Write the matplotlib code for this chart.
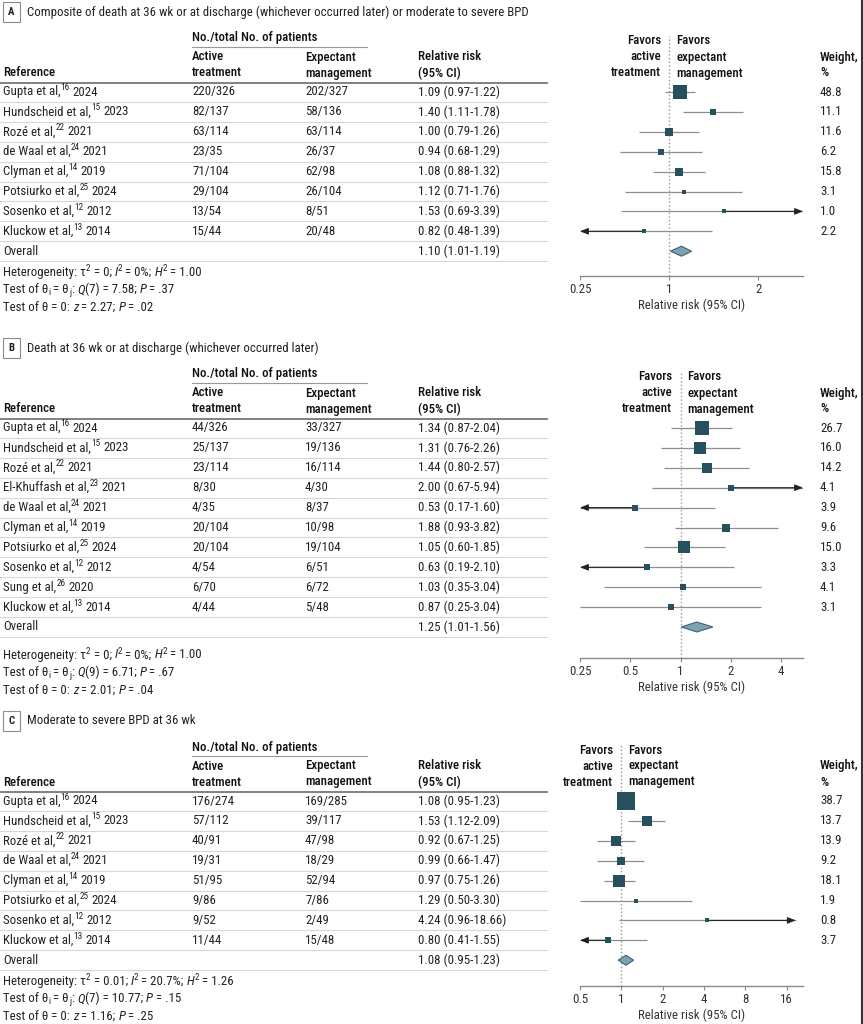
import numpy as np
import matplotlib.pyplot as plt
from matplotlib import font_manager
from matplotlib.ticker import NullLocator

# pick the narrowest sans family that is installed
names = {f.name for f in font_manager.fontManager.ttflist}
FONT = 'DejaVu Sans'
for cand in ['Liberation Sans Narrow', 'Roboto Condensed', 'Arial Narrow', 'Roboto', 'Liberation Sans']:
    if cand in names:
        FONT = cand
        break
plt.rcParams['font.family'] = [FONT, 'DejaVu Sans']

# ---- Panel A data ----
title_a = "Composite of death at 36 wk or at discharge (whichever occurred later) or moderate to severe BPD"
authors_a = ["Gupta et al,", "Hundscheid et al,", "Rozé et al,", "de Waal et al,", "Clyman et al,",
             "Potsiurko et al,", "Sosenko et al,", "Kluckow et al,"]
cites_a = ["16", "15", "22", "24", "14", "25", "12", "13"]
years_a = ["2024", "2023", "2021", "2021", "2019", "2024", "2012", "2014"]
active_a = ["220/326", "82/137", "63/114", "23/35", "71/104", "29/104", "13/54", "15/44"]
expect_a = ["202/327", "58/136", "63/114", "26/37", "62/98", "26/104", "8/51", "20/48"]
rr_a = [1.09, 1.40, 1.00, 0.94, 1.08, 1.12, 1.53, 0.82]
lo_a = [0.97, 1.11, 0.79, 0.68, 0.88, 0.71, 0.69, 0.48]
hi_a = [1.22, 1.78, 1.26, 1.29, 1.32, 1.76, 3.39, 1.39]
wt_a = [48.8, 11.1, 11.6, 6.2, 15.8, 3.1, 1.0, 2.2]
overall_a = [1.10, 1.01, 1.19]
# '|' splits segments: '^' superscript, '_' subscript, '*' italic
stats_a = ["Heterogeneity: τ|^2| = 0; |*I|^2| = 0%; |*H|^2| = 1.00",
           "Test of θ|_i| = θ|_j|: |*Q|(7) = 7.58; |*P| = .37",
           "Test of θ = 0: |*z| = 2.27; |*P| = .02"]
ticks_a = [0.5, 1, 2]
ticklabels_a = ["0.25", "1", "2"]

# ---- Panel B data ----
title_b = "Death at 36 wk or at discharge (whichever occurred later)"
authors_b = ["Gupta et al,", "Hundscheid et al,", "Rozé et al,", "El-Khuffash et al,", "de Waal et al,",
             "Clyman et al,", "Potsiurko et al,", "Sosenko et al,", "Sung et al,", "Kluckow et al,"]
cites_b = ["16", "15", "22", "23", "24", "14", "25", "12", "26", "13"]
years_b = ["2024", "2023", "2021", "2021", "2021", "2019", "2024", "2012", "2020", "2014"]
active_b = ["44/326", "25/137", "23/114", "8/30", "4/35", "20/104", "20/104", "4/54", "6/70", "4/44"]
expect_b = ["33/327", "19/136", "16/114", "4/30", "8/37", "10/98", "19/104", "6/51", "6/72", "5/48"]
rr_b = [1.34, 1.31, 1.44, 2.00, 0.53, 1.88, 1.05, 0.63, 1.03, 0.87]
lo_b = [0.87, 0.76, 0.80, 0.67, 0.17, 0.93, 0.60, 0.19, 0.35, 0.25]
hi_b = [2.04, 2.26, 2.57, 5.94, 1.60, 3.82, 1.85, 2.10, 3.04, 3.04]
wt_b = [26.7, 16.0, 14.2, 4.1, 3.9, 9.6, 15.0, 3.3, 4.1, 3.1]
overall_b = [1.25, 1.01, 1.56]
stats_b = ["Heterogeneity: τ|^2| = 0; |*I|^2| = 0%; |*H|^2| = 1.00",
           "Test of θ|_i| = θ|_j|: |*Q|(9) = 6.71; |*P| = .67",
           "Test of θ = 0: |*z| = 2.01; |*P| = .04"]
ticks_b = [0.25, 0.5, 1, 2, 4]
ticklabels_b = ["0.25", "0.5", "1", "2", "4"]

# ---- Panel C data ----
title_c = "Moderate to severe BPD at 36 wk"
authors_c = ["Gupta et al,", "Hundscheid et al,", "Rozé et al,", "de Waal et al,", "Clyman et al,",
             "Potsiurko et al,", "Sosenko et al,", "Kluckow et al,"]
cites_c = ["16", "15", "22", "24", "14", "25", "12", "13"]
years_c = ["2024", "2023", "2021", "2021", "2019", "2024", "2012", "2014"]
active_c = ["176/274", "57/112", "40/91", "19/31", "51/95", "9/86", "9/52", "11/44"]
expect_c = ["169/285", "39/117", "47/98", "18/29", "52/94", "7/86", "2/49", "15/48"]
rr_c = [1.08, 1.53, 0.92, 0.99, 0.97, 1.29, 4.24, 0.80]
lo_c = [0.95, 1.12, 0.67, 0.66, 0.75, 0.50, 0.96, 0.41]
hi_c = [1.23, 2.09, 1.25, 1.47, 1.26, 3.30, 18.66, 1.55]
wt_c = [38.7, 13.7, 13.9, 9.2, 18.1, 1.9, 0.8, 3.7]
overall_c = [1.08, 0.95, 1.23]
stats_c = ["Heterogeneity: τ|^2| = 0.01; |*I|^2| = 20.7%; |*H|^2| = 1.26",
           "Test of θ|_i| = θ|_j|: |*Q|(7) = 10.77; |*P| = .15",
           "Test of θ = 0: |*z| = 1.16; |*P| = .25"]
ticks_c = [0.5, 1, 2, 4, 8, 16]
ticklabels_c = ["0.5", "1", "2", "4", "8", "16"]

W, H = 863, 1024
TXT = '#222222'
HDR = '#111111'
SQ = '#27505f'
CI = '#8f8f8f'

fig = plt.figure(figsize=(W / 100, H / 100), dpi=100)
bg = fig.add_axes([0, 0, 1, 1])
bg.set_xlim(0, W)
bg.set_ylim(H, 0)
bg.axis('off')
R = fig.canvas.get_renderer()


def text_width(s, **kw):
    t = bg.text(0, 0, s, **kw)
    w = t.get_window_extent(renderer=R).width
    t.remove()
    return w


# size the font from the panel A title width in the reference (a bit over 478 px)
FS = min(10.5, 10 * 495 / text_width(title_a, fontsize=10))
SPACE = text_width("a a", fontsize=FS) - text_width("aa", fontsize=FS)


def rich(x, y, markup):
    # draw a line made of plain, italic, superscript and subscript pieces
    for seg in markup.split('|'):
        if not seg:
            continue
        kw = dict(fontsize=FS, color=TXT, va='center')
        dy = 0
        if seg[0] in '^_':
            kw['fontsize'] = FS * 0.72
            dy = -4 if seg[0] == '^' else 3
            seg = seg[1:]
        elif seg[0] == '*':
            kw['style'] = 'italic'
            seg = seg[1:]
        lead = len(seg) - len(seg.lstrip(' '))
        trail = len(seg) - len(seg.rstrip(' '))
        x += lead * SPACE
        core = seg.strip(' ')
        if core:
            t = bg.text(x, y + dy, core, **kw)
            x += t.get_window_extent(renderer=R).width
        x += trail * SPACE


def draw_panel(letter, title, y0, authors, cites, years, act, exp, rr, lo, hi, wt, overall, stats,
               xlim, ticks, ticklabels, stat_gap, axis_y, k, smin):
    n = len(authors)
    step = 19.9
    first = y0 + 80
    # panel label and title
    bg.text(11.5, y0, letter, ha='center', va='center', fontsize=FS - 1.5, fontweight='bold', color=TXT,
            bbox=dict(boxstyle='square,pad=0.5', fc='white', ec='#8c8c8c', lw=0.8))
    bg.text(27, y0, title, va='center', fontsize=FS, color=TXT)
    # headers
    bg.text(192, y0 + 26, "No./total No. of patients", va='center', fontsize=FS, color=HDR,
            fontweight='medium')
    bg.plot([192, 367], [y0 + 35, y0 + 35], color='#999999', lw=0.8)
    for x, t in [(192, "Active\ntreatment"), (305, "Expectant\nmanagement"), (418, "Relative risk\n(95% CI)")]:
        bg.text(x, y0 + 53, t, va='center', fontsize=FS, color=HDR, linespacing=1.3, fontweight='medium')
    bg.text(3, y0 + 61, "Reference", va='center', fontsize=FS, color=HDR, fontweight='medium')
    bg.text(820, y0 + 53, "Weight,\n%", va='center', fontsize=FS, color=HDR, linespacing=1.3,
            fontweight='medium')
    bg.plot([0, 547], [y0 + 71, y0 + 71], color='#777777', lw=1.3)
    # rows
    for i in range(n + 1):
        y = first + i * step
        if i < n:
            rich(3, y, f"{authors[i]}|^{cites[i]}| {years[i]}")
            bg.text(192, y, act[i], va='center', fontsize=FS, color=TXT)
            bg.text(305, y, exp[i], va='center', fontsize=FS, color=TXT)
            bg.text(418, y, f"{rr[i]:.2f} ({lo[i]:.2f}-{hi[i]:.2f})", va='center', fontsize=FS, color=TXT)
            bg.text(820, y, f"{wt[i]:.1f}", va='center', fontsize=FS, color=TXT)
        else:
            bg.text(3, y, "Overall", va='center', fontsize=FS, color=TXT)
            bg.text(418, y, f"{overall[0]:.2f} ({overall[1]:.2f}-{overall[2]:.2f})",
                    va='center', fontsize=FS, color=TXT)
        bg.plot([0, 547], [y + step / 2, y + step / 2], color='#d6d6d6', lw=0.8)
    ys = first + n * step + stat_gap
    for j, s in enumerate(stats):
        rich(3, ys + j * 17.5, s)

    # forest plot
    top = y0 + 24
    ax = fig.add_axes([580 / W, 1 - axis_y / H, (803 - 580) / W, (axis_y - top) / H])
    ax.set_xscale('log')
    ax.set_xlim(xlim)
    ax.set_ylim((axis_y - first) / step, (top - first) / step)
    ax.axvline(1, color='#9a9a9a', ls=':', lw=1.0, zorder=1)
    arrow = dict(arrowstyle='-|>,head_length=0.7,head_width=0.28', color='#222', lw=0.8,
                 shrinkA=0, shrinkB=0, mutation_scale=7)
    for i in range(n):
        a = max(lo[i], xlim[0])
        b = min(hi[i], xlim[1])
        ax.plot([a, b], [i, i], color=CI, lw=0.9, zorder=2, solid_capstyle='butt')
        if lo[i] < ticks[0]:
            ax.annotate('', xy=(a, i), xytext=(rr[i], i), arrowprops=arrow, annotation_clip=False, zorder=2)
        if hi[i] > ticks[-1]:
            ax.annotate('', xy=(b, i), xytext=(rr[i], i), arrowprops=arrow, annotation_clip=False, zorder=2)
        side = max(smin, k * np.sqrt(wt[i])) * 0.72
        ax.scatter([rr[i]], [i], marker='s', s=side ** 2, color=SQ, zorder=3, linewidths=0)
    est, dlo, dhi = overall
    h = 0.25
    ax.fill([dlo, est, dhi, est], [n, n - h, n, n + h], facecolor='#7da2b3', edgecolor='#3f6372',
            lw=0.8, zorder=3)
    yfav = (y0 + 45 - first) / step
    ax.annotate("Favors\nactive\ntreatment", xy=(1, yfav), xytext=(-6, 0),
                textcoords='offset points', ha='right', va='center', fontsize=FS, color=HDR,
                linespacing=1.3, annotation_clip=False, fontweight='medium')
    ax.annotate("Favors\nexpectant\nmanagement", xy=(1, yfav), xytext=(5, 0),
                textcoords='offset points', ha='left', va='center', fontsize=FS, color=HDR,
                linespacing=1.3, annotation_clip=False, fontweight='medium')
    for sp in ['top', 'left', 'right']:
        ax.spines[sp].set_visible(False)
    ax.spines['bottom'].set_color('#8a8a8a')
    ax.spines['bottom'].set_linewidth(1.0)
    ax.set_yticks([])
    ax.set_xticks(ticks)
    ax.set_xticklabels(ticklabels)
    ax.xaxis.set_minor_locator(NullLocator())
    ax.tick_params(axis='x', length=3, color='#8a8a8a', labelsize=FS, labelcolor='#333', pad=2)
    ax.set_xlabel("Relative risk (95% CI)", fontsize=FS, color='#333', labelpad=2)
    ax.patch.set_alpha(0)


draw_panel("A", title_a, 12, authors_a, cites_a, years_a, active_a, expect_a, rr_a, lo_a, hi_a, wt_a,
           overall_a, stats_a, (0.5, 2 ** 1.5), ticks_a, ticklabels_a, 21, 276, 2.1, 4.5)
draw_panel("B", title_b, 348, authors_b, cites_b, years_b, active_b, expect_b, rr_b, lo_b, hi_b, wt_b,
           overall_b, stats_b, (0.25, 5.4), ticks_b, ticklabels_b, 28, 658, 2.9, 6)
draw_panel("C", title_c, 721, authors_c, cites_c, years_c, active_c, expect_c, rr_c, lo_c, hi_c, wt_c,
           overall_c, stats_c, (0.5, 21.1), ticks_c, ticklabels_c, 21, 986, 2.9, 5)

bg.plot([861.5, 861.5], [0, H], color='#333333', lw=1.5)

fig.savefig('out.png', dpi=100)
